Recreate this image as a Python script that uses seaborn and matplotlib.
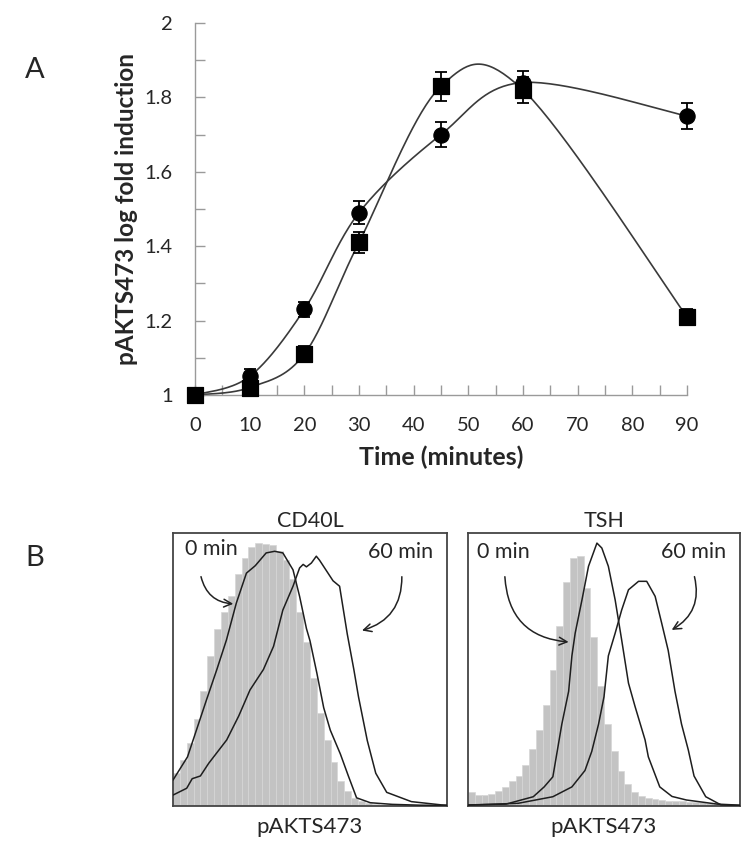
"""
Two-panel figure: pAKT S473 induction time course (A) and flow histograms (B).
"""

import numpy as np
import matplotlib
matplotlib.use("Agg")
import matplotlib.pyplot as plt
from matplotlib.ticker import MultipleLocator, FuncFormatter
import seaborn as sns

sns.set_theme(style="white")
plt.rcParams["font.family"] = ["Lato", "DejaVu Sans"]

# ---- Panel A data -------------------------------------------------------
time_min = [0, 10, 20, 30, 45, 60, 90]
circle_vals = [1.00, 1.05, 1.23, 1.49, 1.70, 1.84, 1.75]
circle_err = [0.0, 0.02, 0.021, 0.031, 0.033, 0.032, 0.036]
square_vals = [1.00, 1.02, 1.11, 1.41, 1.83, 1.82, 1.21]
square_err = [0.0, 0.01, 0.022, 0.029, 0.039, 0.034, 0.022]

# ---- Panel B data (fraction of axis width / box height) -----------------
bin_step = 0.025
cd40l_gray = [0.12, 0.17, 0.23, 0.32, 0.42, 0.55, 0.65, 0.71, 0.77, 0.85,
              0.91, 0.95, 0.965, 0.96, 0.955, 0.935, 0.90, 0.83, 0.71, 0.60,
              0.47, 0.34, 0.24, 0.16, 0.09, 0.055, 0.03, 0.018, 0.01, 0.006,
              0.004, 0.003, 0.002, 0.002, 0.001, 0.001, 0.0, 0.0, 0.0, 0.0]
cd40l_0_x = [0, 0.053, 0.122, 0.16, 0.195, 0.231, 0.268, 0.30, 0.34, 0.371,
             0.401, 0.438, 0.462, 0.487, 0.50, 0.525, 0.55, 0.574, 0.611,
             0.64, 0.67, 0.72, 0.80, 0.90, 1.0]
cd40l_0_y = [0.095, 0.18, 0.388, 0.50, 0.608, 0.743, 0.853, 0.88, 0.927,
             0.933, 0.927, 0.865, 0.768, 0.65, 0.605, 0.487, 0.36, 0.278,
             0.19, 0.11, 0.03, 0.012, 0.006, 0.003, 0.002]
cd40l_60_x = [0, 0.05, 0.07, 0.10, 0.13, 0.196, 0.24, 0.281, 0.33, 0.367,
              0.401, 0.438, 0.462, 0.475, 0.487, 0.505, 0.523, 0.535, 0.584,
              0.608, 0.636, 0.66, 0.677, 0.709, 0.74, 0.78, 0.87, 0.98, 1.0]
cd40l_60_y = [0.04, 0.065, 0.10, 0.11, 0.156, 0.242, 0.33, 0.425, 0.50,
              0.585, 0.718, 0.805, 0.872, 0.885, 0.876, 0.89, 0.915, 0.90,
              0.825, 0.805, 0.63, 0.50, 0.40, 0.24, 0.12, 0.05, 0.016,
              0.004, 0.003]

tsh_gray = [0.05, 0.04, 0.04, 0.045, 0.055, 0.07, 0.09, 0.11, 0.15, 0.21,
            0.28, 0.37, 0.50, 0.66, 0.82, 0.91, 0.915, 0.80, 0.62, 0.44,
            0.30, 0.20, 0.13, 0.08, 0.05, 0.035, 0.028, 0.025, 0.022, 0.02,
            0.018, 0.017, 0.016, 0.015, 0.014, 0.012, 0.01, 0.006, 0.003,
            0.002]
tsh_0_x = [0, 0.14, 0.24, 0.28, 0.312, 0.345, 0.37, 0.382, 0.394, 0.419,
           0.443, 0.474, 0.492, 0.516, 0.541, 0.565, 0.59, 0.614, 0.651,
           0.663, 0.705, 0.75, 0.803, 0.916, 1.0]
tsh_0_y = [0.004, 0.007, 0.034, 0.07, 0.107, 0.30, 0.42, 0.55, 0.633,
           0.755, 0.878, 0.963, 0.945, 0.878, 0.755, 0.608, 0.45, 0.365,
           0.242, 0.18, 0.07, 0.035, 0.022, 0.007, 0.003]
tsh_60_x = [0, 0.185, 0.312, 0.382, 0.43, 0.455, 0.48, 0.50, 0.516, 0.541,
            0.565, 0.59, 0.627, 0.657, 0.688, 0.712, 0.736, 0.761, 0.785,
            0.81, 0.831, 0.874, 0.93, 1.0]
tsh_60_y = [0.003, 0.01, 0.034, 0.07, 0.13, 0.20, 0.30, 0.40, 0.55, 0.633,
            0.718, 0.792, 0.823, 0.823, 0.768, 0.67, 0.57, 0.42, 0.30,
            0.205, 0.11, 0.034, 0.004, 0.002]

LINE_COLOR = "#3a3a3a"
AXIS_GRAY = "#9a9a9a"
W, H = 750, 861


def excel_smooth(x, y, n=40):
    """Smoothed line through the points, like a spreadsheet 'smoothed line'."""
    pts = np.column_stack([x, y]).astype(float)
    out = [pts[0]]
    t = np.linspace(0, 1, n)[1:, None]
    for i in range(len(pts) - 1):
        p0 = pts[i - 1] if i > 0 else pts[i]
        p1, p2 = pts[i], pts[i + 1]
        p3 = pts[i + 2] if i + 2 < len(pts) else pts[i + 1]
        c1 = p1 + (p2 - p0) / 6
        c2 = p2 - (p3 - p1) / 6
        seg = ((1 - t) ** 3 * p1 + 3 * (1 - t) ** 2 * t * c1
               + 3 * (1 - t) * t ** 2 * c2 + t ** 3 * p2)
        out.extend(seg)
    out = np.array(out)
    return out[:, 0], out[:, 1]


def plot_time_course(fig):
    ax = fig.add_axes([195 / W, 1 - 395 / H, (687 - 195) / W, (395 - 23) / H])

    for vals in (circle_vals, square_vals):
        sx, sy = excel_smooth(time_min, vals)
        sns.lineplot(x=sx, y=sy, sort=False, estimator=None, color=LINE_COLOR,
                     lw=1.2, ax=ax, zorder=2)

    ax.errorbar(time_min, circle_vals, yerr=circle_err, fmt="none", ecolor="black",
                elinewidth=1.3, capsize=4, capthick=1.3, zorder=3, clip_on=False)
    ax.errorbar(time_min, square_vals, yerr=square_err, fmt="none", ecolor="black",
                elinewidth=1.3, capsize=4, capthick=1.3, zorder=3, clip_on=False)
    sns.scatterplot(x=time_min, y=circle_vals, marker="o", s=120, color="black",
                    edgecolor="black", ax=ax, zorder=4, clip_on=False)
    sns.scatterplot(x=time_min, y=square_vals, marker="s", s=120, color="black",
                    edgecolor="black", ax=ax, zorder=4, clip_on=False)

    ax.set_xlim(0, 90)
    ax.set_ylim(1, 2)
    ax.xaxis.set_major_locator(MultipleLocator(10))
    ax.xaxis.set_minor_locator(MultipleLocator(5))
    ax.yaxis.set_major_locator(MultipleLocator(0.2))
    ax.yaxis.set_minor_locator(MultipleLocator(0.1))
    ax.yaxis.set_major_formatter(FuncFormatter(lambda v, p: f"{v:g}"))
    for side in ("top", "right"):
        ax.spines[side].set_visible(False)
    for side in ("left", "bottom"):
        ax.spines[side].set_color(AXIS_GRAY)
        ax.spines[side].set_linewidth(1.0)
    ax.tick_params(which="both", direction="in", length=7, width=1.0,
                   color=AXIS_GRAY, left=True, bottom=True)
    ax.tick_params(axis="x", which="major", labelsize=14.5, pad=16)
    ax.tick_params(axis="y", which="major", labelsize=14.5, pad=16)
    ax.set_xlabel("Time (minutes)", fontsize=18, fontweight="bold", labelpad=8)
    ax.set_ylabel("pAKTS473 log fold induction", fontsize=17.5, fontweight="bold",
                  labelpad=5)
    fig.text(35 / W, 1 - 70 / H, "A", fontsize=21, ha="center", va="center")


def plot_histogram(fig, left, right, title, gray, x0, y0, x60, y60, arrows):
    ax = fig.add_axes([left / W, 1 - 806 / H, (right - left) / W, 273 / H])
    centers = np.arange(len(gray)) * bin_step + bin_step / 2
    ax.bar(centers, gray, width=bin_step, color="#c3c3c3", edgecolor="#d6d6d6",
           linewidth=0.5, zorder=1)
    sns.lineplot(x=x0, y=y0, sort=False, estimator=None, color="#1e1e1e",
                 lw=1.1, ax=ax, zorder=3)
    sns.lineplot(x=x60, y=y60, sort=False, estimator=None, color="#1e1e1e",
                 lw=1.1, ax=ax, zorder=3)
    ax.set_xlim(0, 1)
    ax.set_ylim(0, 1)
    ax.set_xticks([])
    ax.set_yticks([])
    for sp in ax.spines.values():
        sp.set_color("#444444")
        sp.set_linewidth(1.3)
    ax.set_title(title, fontsize=15.5, pad=4)
    ax.set_xlabel("pAKTS473", fontsize=16, labelpad=8)

    for text, tx, ty, sx, sy, ex, ey, rad in arrows:
        ax.text(tx, ty, text, fontsize=15.5, ha="center", va="center", zorder=5)
        ax.annotate("", xy=(ex, ey), xytext=(sx, sy), zorder=5,
                    arrowprops=dict(arrowstyle="->", color="#222222", lw=1.1,
                                    connectionstyle=f"arc3,rad={rad}",
                                    mutation_scale=14))


def main():
    fig = plt.figure(figsize=(7.5, 8.61), dpi=100)
    plot_time_course(fig)

    plot_histogram(fig, 173, 447, "CD40L", cd40l_gray, cd40l_0_x, cd40l_0_y,
                   cd40l_60_x, cd40l_60_y,
                   [("0 min", 0.14, 0.94, 0.10, 0.85, 0.23, 0.74, 0.4),
                    ("60 min", 0.83, 0.93, 0.835, 0.85, 0.68, 0.64, -0.4)])
    plot_histogram(fig, 468, 740, "TSH", tsh_gray, tsh_0_x, tsh_0_y,
                   tsh_60_x, tsh_60_y,
                   [("0 min", 0.13, 0.93, 0.135, 0.85, 0.38, 0.60, 0.45),
                    ("60 min", 0.83, 0.93, 0.83, 0.85, 0.74, 0.64, -0.4)])

    fig.text(35 / W, 1 - 558 / H, "B", fontsize=21, ha="center", va="center")
    fig.savefig("out.png", dpi=100)
    plt.close(fig)


if __name__ == "__main__":
    main()
